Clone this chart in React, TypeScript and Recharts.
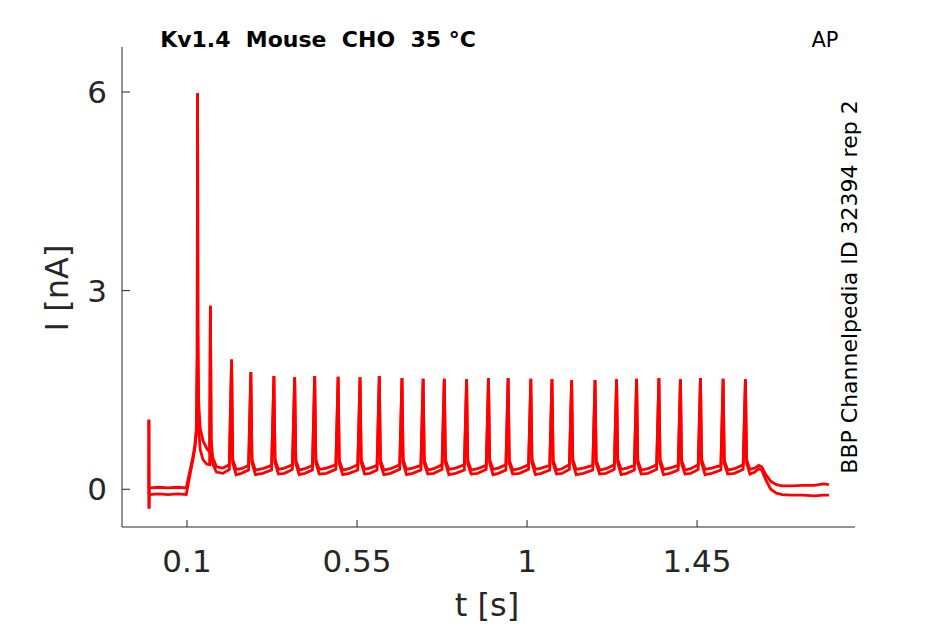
import React from "react";
import { LineChart, Line, XAxis, YAxis } from "recharts";

// time (s) and current (nA) for two repetitions of the recording
const timeS = [
  -0.001, -0.0008, -0.0004, 0.0, 0.025, 0.05, 0.075, 0.098, 0.104, 0.11, 0.116, 0.121, 0.125, 0.127, 0.128, 0.129,
  0.131, 0.135, 0.142, 0.152, 0.16, 0.162, 0.164, 0.168, 0.178, 0.195, 0.212,
  0.218, 0.221, 0.23, 0.244, 0.263,
  0.269, 0.272, 0.281, 0.3, 0.324,
  0.33, 0.333, 0.342, 0.358, 0.379,
  0.385, 0.388, 0.397, 0.412, 0.432,
  0.438, 0.441, 0.45, 0.469, 0.494,
  0.5, 0.503, 0.512, 0.529, 0.552,
  0.558, 0.561, 0.57, 0.584, 0.603,
  0.609, 0.612, 0.621, 0.639, 0.663,
  0.669, 0.672, 0.681, 0.697, 0.719,
  0.725, 0.728, 0.737, 0.753, 0.775,
  0.781, 0.784, 0.793, 0.811, 0.834,
  0.84, 0.843, 0.852, 0.869, 0.892,
  0.898, 0.901, 0.91, 0.924, 0.944,
  0.95, 0.953, 0.962, 0.98, 1.004,
  1.01, 1.013, 1.022, 1.038, 1.06,
  1.066, 1.069, 1.078, 1.092, 1.112,
  1.118, 1.121, 1.13, 1.149, 1.174,
  1.18, 1.183, 1.192, 1.209, 1.231,
  1.237, 1.24, 1.249, 1.264, 1.284,
  1.29, 1.293, 1.302, 1.32, 1.343,
  1.349, 1.352, 1.361, 1.378, 1.4,
  1.406, 1.409, 1.418, 1.433, 1.453,
  1.459, 1.462, 1.471, 1.489, 1.513,
  1.519, 1.522, 1.531, 1.549, 1.572,
  1.578, 1.581, 1.59, 1.603, 1.613, 1.621, 1.632, 1.645, 1.66, 1.675, 1.7, 1.73, 1.76, 1.785, 1.799,
];

const repA = [
  0.02, 1.05, -0.29, 0.02, 0.03, 0.02, 0.03, 0.02, 0.18, 0.34, 0.5, 0.68, 0.93, 2.0, 5.98, 2.4,
  1.3, 0.92, 0.74, 0.62, 0.56, 2.77, 0.75, 0.48, 0.34, 0.32, 0.37,
  1.96, 0.45, 0.3, 0.31, 0.36,
  1.77, 0.45, 0.29, 0.31, 0.36,
  1.71, 0.45, 0.3, 0.32, 0.37,
  1.69, 0.44, 0.29, 0.31, 0.36,
  1.71, 0.45, 0.3, 0.32, 0.37,
  1.7, 0.44, 0.29, 0.31, 0.37,
  1.69, 0.45, 0.3, 0.32, 0.36,
  1.71, 0.44, 0.29, 0.31, 0.37,
  1.68, 0.45, 0.3, 0.32, 0.36,
  1.67, 0.44, 0.29, 0.31, 0.37,
  1.67, 0.45, 0.3, 0.32, 0.37,
  1.66, 0.44, 0.29, 0.31, 0.36,
  1.68, 0.45, 0.3, 0.32, 0.37,
  1.68, 0.44, 0.29, 0.31, 0.37,
  1.67, 0.45, 0.3, 0.32, 0.36,
  1.66, 0.44, 0.29, 0.31, 0.37,
  1.65, 0.45, 0.3, 0.32, 0.36,
  1.65, 0.44, 0.29, 0.31, 0.37,
  1.66, 0.45, 0.3, 0.32, 0.36,
  1.67, 0.44, 0.29, 0.31, 0.37,
  1.68, 0.45, 0.3, 0.32, 0.36,
  1.66, 0.44, 0.29, 0.31, 0.37,
  1.68, 0.45, 0.3, 0.32, 0.36,
  1.67, 0.44, 0.29, 0.31, 0.37,
  1.66, 0.45, 0.3, 0.32, 0.36, 0.34, 0.22, 0.12, 0.07, 0.05, 0.05, 0.06, 0.06, 0.08, 0.07,
];

const repB = [
  -0.08, 1.05, -0.29, -0.08, -0.07, -0.08, -0.07, -0.08, 0.1, 0.28, 0.45, 0.62, 0.86, 2.0, 5.98, 1.8,
  0.9, 0.6, 0.45, 0.38, 0.37, 2.77, 0.65, 0.38, 0.26, 0.24, 0.3,
  1.96, 0.4, 0.22, 0.24, 0.29,
  1.77, 0.4, 0.22, 0.24, 0.29,
  1.71, 0.4, 0.23, 0.24, 0.3,
  1.69, 0.39, 0.22, 0.24, 0.29,
  1.71, 0.4, 0.23, 0.24, 0.3,
  1.7, 0.39, 0.22, 0.24, 0.29,
  1.69, 0.4, 0.23, 0.24, 0.29,
  1.71, 0.39, 0.22, 0.24, 0.3,
  1.68, 0.4, 0.22, 0.24, 0.29,
  1.67, 0.39, 0.23, 0.24, 0.3,
  1.67, 0.4, 0.22, 0.24, 0.29,
  1.66, 0.39, 0.23, 0.24, 0.3,
  1.68, 0.4, 0.22, 0.24, 0.29,
  1.68, 0.39, 0.23, 0.24, 0.3,
  1.67, 0.4, 0.22, 0.24, 0.29,
  1.66, 0.39, 0.23, 0.24, 0.3,
  1.65, 0.4, 0.22, 0.24, 0.29,
  1.65, 0.39, 0.23, 0.24, 0.3,
  1.66, 0.4, 0.22, 0.24, 0.29,
  1.67, 0.39, 0.23, 0.24, 0.3,
  1.68, 0.4, 0.22, 0.24, 0.29,
  1.66, 0.39, 0.23, 0.24, 0.3,
  1.68, 0.4, 0.22, 0.24, 0.29,
  1.67, 0.39, 0.23, 0.24, 0.3,
  1.66, 0.4, 0.23, 0.26, 0.31, 0.29, 0.14, 0.0, -0.06, -0.08, -0.09, -0.09, -0.1, -0.09, -0.09,
];

const xTicks = [0.1, 0.55, 1, 1.45];
const xTickLabels = ["0.1", "0.55", "1", "1.45"];
const yTicks = [0, 3, 6];
const yTickLabels = ["0", "3", "6"];

const titleText = "Kv1.4  Mouse  CHO  35 °C";
const protocolText = "AP";
const sourceText = "BBP Channelpedia ID 32394 rep 2";
const xLabel = "t [s]";
const yLabel = "I [nA]";

const data = timeS.map((t, i) => ({ t, a: repA[i], b: repB[i] }));

const AXIS = "#262626";
const FONT = "'DejaVu Sans', sans-serif";

const XTick = (props: any) => {
  const { x, y, payload } = props;
  const idx = xTicks.indexOf(payload.value);
  return (
    <g>
      <line x1={x} x2={x} y1={y} y2={y - 7} stroke={AXIS} strokeWidth={1} />
      <text x={x} y={y + 45} textAnchor="middle" fontSize={31} fill={AXIS} fontFamily={FONT}>
        {idx >= 0 ? xTickLabels[idx] : String(payload.value)}
      </text>
    </g>
  );
};

const YTick = (props: any) => {
  const { x, y, payload } = props;
  const idx = yTicks.indexOf(payload.value);
  return (
    <g>
      <line x1={x} x2={x + 8} y1={y} y2={y} stroke={AXIS} strokeWidth={1} />
      <text x={x - 15} y={y + 11} textAnchor="end" fontSize={31} fill={AXIS} fontFamily={FONT}>
        {idx >= 0 ? yTickLabels[idx] : String(payload.value)}
      </text>
    </g>
  );
};

export default function App() {
  return (
    <div style={{ position: "absolute", left: 0, top: 0, width: 945, height: 624, background: "#fff" }}>
      <LineChart width={945} height={624} data={data} margin={{ top: 47, right: 90, bottom: 0, left: 0 }}>
        <XAxis
          dataKey="t"
          type="number"
          domain={[-0.072, 1.868]}
          ticks={xTicks}
          allowDataOverflow
          height={97}
          tickSize={0}
          tickMargin={0}
          tickLine={false}
          axisLine={{ stroke: AXIS, strokeWidth: 1 }}
          tick={<XTick />}
          interval={0}
        />
        <YAxis
          type="number"
          domain={[-0.57, 6.68]}
          ticks={yTicks}
          allowDataOverflow
          width={122}
          tickSize={0}
          tickMargin={0}
          tickLine={false}
          axisLine={{ stroke: AXIS, strokeWidth: 1 }}
          tick={<YTick />}
          interval={0}
        />
        <Line dataKey="b" type="linear" stroke="#ff0000" strokeWidth={2.8} dot={false} isAnimationActive={false} />
        <Line dataKey="a" type="linear" stroke="#ff0000" strokeWidth={2.8} dot={false} isAnimationActive={false} />
        <text x={318} y={47} textAnchor="middle" fontSize={22} fontWeight="bold" fill="#000" fontFamily={FONT} style={{ whiteSpace: "pre" }}>
          {titleText}
        </text>
        <text x={825} y={47} textAnchor="middle" fontSize={21} fill="#000" fontFamily={FONT}>
          {protocolText}
        </text>
        <text x={857} y={287} textAnchor="middle" fontSize={22} fill="#000" fontFamily={FONT} transform="rotate(-90, 857, 287)">
          {sourceText}
        </text>
        <text x={487} y={616} textAnchor="middle" fontSize={32} fill={AXIS} fontFamily={FONT}>
          {xLabel}
        </text>
        <text x={68} y={288} textAnchor="middle" fontSize={32} fill={AXIS} fontFamily={FONT} transform="rotate(-90, 68, 288)">
          {yLabel}
        </text>
      </LineChart>
    </div>
  );
}
